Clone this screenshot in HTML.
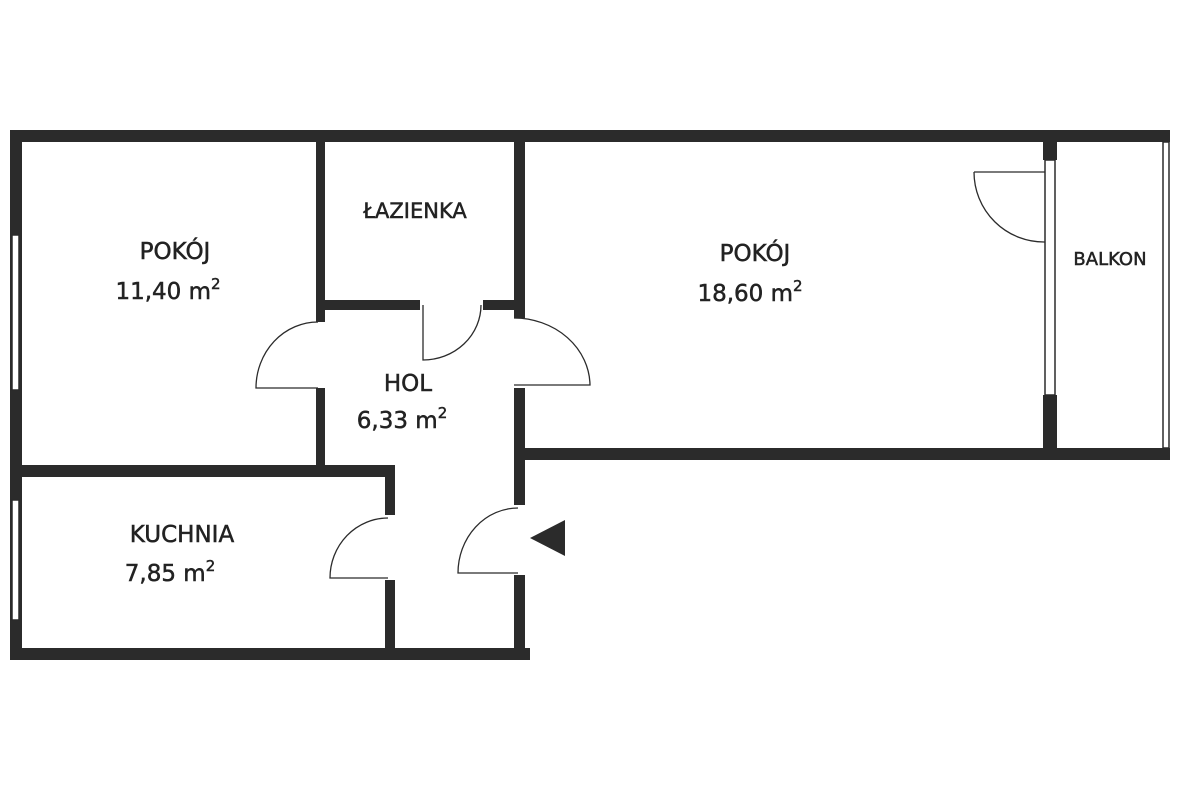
<!DOCTYPE html>
<html><head><meta charset="utf-8"><style>
html,body{margin:0;padding:0;background:#fff;}
svg{display:block}
text{font-family:"DejaVu Sans","Liberation Sans",sans-serif;fill:#222;text-anchor:middle;stroke:#222;stroke-width:0.5}
</style></head><body>
<svg width="1193" height="795" viewBox="0 0 1193 795">
<g fill="#2b2b2b">
<rect x="10" y="130" width="1160" height="12"/>
<rect x="10" y="130" width="12" height="530"/>
<rect x="10" y="648" width="520" height="12"/>
<rect x="10" y="465" width="385" height="12"/>
<rect x="316" y="142" width="9" height="180"/>
<rect x="316" y="388" width="9" height="82"/>
<rect x="325" y="300" width="95" height="10"/>
<rect x="483" y="300" width="42" height="10"/>
<rect x="514" y="142" width="11" height="176"/>
<rect x="514" y="388" width="11" height="117"/>
<rect x="514" y="575" width="11" height="85"/>
<rect x="525" y="448" width="645" height="12"/>
<rect x="1043" y="142" width="14" height="18"/>
<rect x="1043" y="395" width="14" height="53"/>
<rect x="385" y="470" width="10" height="45"/>
<rect x="385" y="580" width="10" height="70"/>
<polygon points="530,538 565,520 565,556"/>
</g>
<g fill="#fff" stroke="#2b2b2b" stroke-width="1.5">
<rect x="12" y="235" width="7" height="155"/>
<rect x="12" y="500" width="7" height="120"/>
<rect x="1045" y="160" width="10" height="235"/>
<rect x="1163" y="142" width="6" height="306"/>
</g>
<g fill="none" stroke="#2b2b2b" stroke-width="1.3">
<path d="M318,322 A62,66 0 0 0 256,388 L318,388"/>
<path d="M423,305 L423,360 A58,55 0 0 0 481,305"/>
<path d="M514,318 A76,68 0 0 1 590,385 L514,385"/>
<path d="M388,518 A58,60 0 0 0 330,578 L388,578"/>
<path d="M518,508 A60,65 0 0 0 458,573 L518,573"/>
<path d="M974,172 L1045,172 M974,172 A70,70 0 0 0 1045,242"/>
</g>
<g font-size="23">
<text x="175" y="259">POKÓJ</text>
<text x="168" y="299">11,40 m<tspan font-size="15" dy="-10">2</tspan></text>
<text x="415" y="218" font-size="21">ŁAZIENKA</text>
<text x="408" y="391">HOL</text>
<text x="402" y="428">6,33 m<tspan font-size="15" dy="-10">2</tspan></text>
<text x="755" y="261">POKÓJ</text>
<text x="750" y="301">18,60 m<tspan font-size="15" dy="-10">2</tspan></text>
<text x="182" y="542">KUCHNIA</text>
<text x="170" y="581">7,85 m<tspan font-size="15" dy="-10">2</tspan></text>
<text x="1110" y="265" font-size="18" stroke-width="0.3">BALKON</text>
</g>
</svg>
</body></html>
